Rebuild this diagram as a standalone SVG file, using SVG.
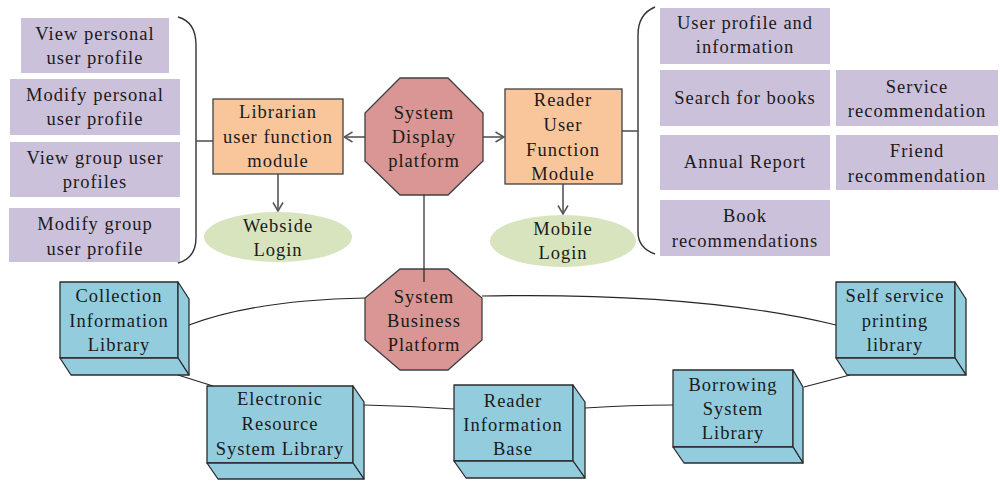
<svg xmlns="http://www.w3.org/2000/svg" width="1000" height="482" viewBox="0 0 1000 482">
<style>
text{font-family:'Liberation Serif',serif;font-size:18.5px;letter-spacing:1px;fill:#1a1a1a;text-anchor:middle}
.p{fill:#ccc1da}
.o{fill:#f9c59b;stroke:#404040;stroke-width:1.3}
.g{fill:#d7e4bd}
.oc{fill:#d99694;stroke:#404040;stroke-width:1.3}
.b{fill:#93cddd;stroke:#2b2b2b;stroke-width:1.3;stroke-linejoin:round}
.c{fill:none;stroke:#262626;stroke-width:1.2}
.a{fill:none;stroke:#555;stroke-width:1.6}
.br{fill:none;stroke:#333;stroke-width:1.4}
</style>
<defs>
<marker id="arr" viewBox="0 0 10 12" refX="9.5" refY="6" markerWidth="10" markerHeight="12" markerUnits="userSpaceOnUse" orient="auto">
<path d="M1,1 L9.5,6 L1,11" fill="none" stroke="#555" stroke-width="1.5"/>
</marker>
</defs>

<g id="connectors">
<path class="br" d="M178,17 Q196,22 196,45 L196,238 Q196,258 178,263"/>
<line class="a" x1="196" y1="141" x2="213" y2="141"/>
<path class="br" d="M655,7 Q638,14 638,35 L638,232 Q638,248 655,254"/>
<line class="a" x1="622" y1="131" x2="638" y2="131"/>
<line class="a" x1="365" y1="137" x2="344" y2="137" marker-end="url(#arr)"/>
<line class="a" x1="483" y1="137" x2="504" y2="137" marker-end="url(#arr)"/>
<line class="a" x1="278" y1="174" x2="278" y2="211" marker-end="url(#arr)"/>
<line class="a" x1="563" y1="184" x2="563" y2="214" marker-end="url(#arr)"/>
<path class="c" d="M189,325 Q255,300 365,298"/>
<path class="c" d="M482,296 Q700,292 836,325"/>
<line class="c" x1="178" y1="375" x2="213" y2="386"/>
<path class="c" d="M364,405 Q410,406 454,409"/>
<path class="c" d="M585,408 Q630,405 673,405"/>
<line class="c" x1="804" y1="387" x2="850" y2="375"/>
</g>

<g id="view-personal"><rect class="p" x="21" y="18" width="148" height="55"/><text x="95" y="40">View personal</text><text x="95" y="64">user profile</text></g>
<g id="modify-personal"><rect class="p" x="10" y="79" width="170" height="56"/><text x="95" y="101">Modify personal</text><text x="95" y="125">user profile</text></g>
<g id="view-group"><rect class="p" x="10" y="142" width="170" height="55"/><text x="95" y="164">View group user</text><text x="95" y="188">profiles</text></g>
<g id="modify-group"><rect class="p" x="9" y="208" width="171" height="54"/><text x="95" y="230">Modify group</text><text x="95" y="255">user profile</text></g>

<g id="librarian"><rect class="o" x="213" y="99" width="130" height="75"/><text x="278" y="118">Librarian</text><text x="278" y="143">user function</text><text x="278" y="167">module</text></g>
<g id="webside-login"><ellipse class="g" cx="278" cy="237" rx="74" ry="25"/><text x="278" y="232">Webside</text><text x="278" y="256">Login</text></g>

<g id="display-platform"><polygon class="oc" points="400,78 448,78 483,113 483,161 448,195 400,195 365,161 365,113"/><text x="424" y="119">System</text><text x="424" y="143">Display</text><text x="424" y="167">platform</text></g>

<g id="reader-module"><rect class="o" x="505" y="89" width="117" height="95"/><text x="563" y="106">Reader</text><text x="563" y="131">User</text><text x="563" y="156">Function</text><text x="563" y="180">Module</text></g>
<g id="mobile-login"><ellipse class="g" cx="563" cy="241" rx="73" ry="26"/><text x="563" y="235">Mobile</text><text x="563" y="259">Login</text></g>

<g id="user-profile-info"><rect class="p" x="660" y="8" width="170" height="56"/><text x="745" y="29">User profile and</text><text x="745" y="53">information</text></g>
<g id="search-books"><rect class="p" x="660" y="70" width="170" height="56"/><text x="745" y="104">Search for books</text></g>
<g id="annual-report"><rect class="p" x="660" y="135" width="170" height="55"/><text x="745" y="168">Annual Report</text></g>
<g id="book-rec"><rect class="p" x="660" y="200" width="170" height="56"/><text x="745" y="222">Book</text><text x="745" y="247">recommendations</text></g>
<g id="service-rec"><rect class="p" x="836" y="70" width="162" height="56"/><text x="917" y="93">Service</text><text x="917" y="117">recommendation</text></g>
<g id="friend-rec"><rect class="p" x="836" y="135" width="162" height="55"/><text x="917" y="157">Friend</text><text x="917" y="182">recommendation</text></g>

<g id="business-platform"><polygon class="oc" points="400,269 448,269 482,298 482,340 448,370 400,370 365,340 365,298"/><line class="c" x1="424" y1="195" x2="424" y2="282"/><text x="424" y="303">System</text><text x="424" y="327">Business</text><text x="424" y="351">Platform</text></g>

<g id="collection"><rect class="b" x="60" y="282" width="118" height="76"/><polygon class="b" points="178,282 189,299 189,375 178,358"/><polygon class="b" points="60,358 178,358 189,375 71,375"/><text x="119" y="302">Collection</text><text x="119" y="327">Information</text><text x="119" y="351">Library</text></g>
<g id="electronic"><rect class="b" x="207" y="386" width="146" height="77"/><polygon class="b" points="353,386 364,402 364,479 353,463"/><polygon class="b" points="207,463 353,463 364,479 218,479"/><text x="280" y="405">Electronic</text><text x="280" y="430">Resource</text><text x="280" y="455">System Library</text></g>
<g id="reader-info"><rect class="b" x="454" y="385" width="119" height="76"/><polygon class="b" points="573,385 585,402 585,478 573,461"/><polygon class="b" points="454,461 573,461 585,478 466,478"/><text x="513" y="407">Reader</text><text x="513" y="431">Information</text><text x="513" y="455">Base</text></g>
<g id="borrowing"><rect class="b" x="673" y="370" width="120" height="77"/><polygon class="b" points="793,370 803,387 803,463 793,447"/><polygon class="b" points="673,447 793,447 803,463 684,463"/><text x="733" y="391">Borrowing</text><text x="733" y="415">System</text><text x="733" y="439">Library</text></g>
<g id="self-service"><rect class="b" x="836" y="282" width="119" height="76"/><polygon class="b" points="955,282 966,299 966,375 955,358"/><polygon class="b" points="836,358 955,358 966,375 847,375"/><text x="895" y="302">Self service</text><text x="895" y="327">printing</text><text x="895" y="351">library</text></g>
</svg>
